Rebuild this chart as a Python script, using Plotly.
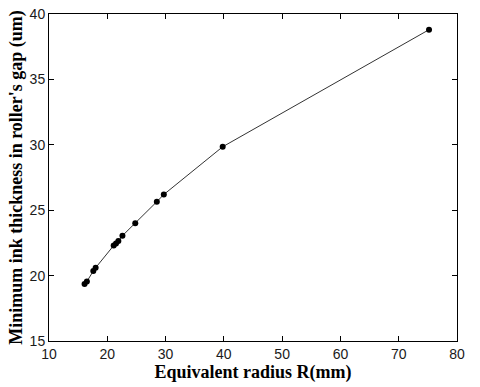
import plotly.graph_objects as go

# Data
radius_mm = [16.1, 16.5, 17.6, 18.0, 21.1, 21.5, 21.9, 22.6, 24.8, 28.5, 29.7, 39.8, 75.2]
ink_thickness_um = [19.35, 19.55, 20.35, 20.6, 22.3, 22.45, 22.65, 23.05, 24.0, 25.65, 26.2, 29.85, 38.8]

x_ticks = [10, 20, 30, 40, 50, 60, 70, 80]
y_ticks = [15, 20, 25, 30, 35, 40]

fig = go.Figure()
fig.add_trace(go.Scatter(
    x=radius_mm, y=ink_thickness_um,
    mode="lines+markers",
    line=dict(color="#333333", width=1),
    marker=dict(color="black", size=6, symbol="circle"),
    showlegend=False,
))

axis_common = dict(
    showline=True, linecolor="black", linewidth=1, mirror="ticks",
    ticks="inside", ticklen=5, tickcolor="black", tickwidth=1,
    showgrid=False, zeroline=False, ticklabeloverflow="allow",
    tickfont=dict(family="Liberation Sans, Arial", size=14, color="#1a1a1a"),
)

fig.update_layout(
    width=480, height=387,
    margin=dict(l=49, r=23, t=14, b=46, autoexpand=False),
    paper_bgcolor="white", plot_bgcolor="white",
    xaxis=dict(
        range=[10, 80], tickvals=x_ticks,
        title=dict(text="<b>Equivalent radius R(mm)</b>", standoff=2,
                   font=dict(family="Liberation Serif, Times New Roman", size=18, color="black")),
        automargin=False,
        **axis_common,
    ),
    yaxis=dict(
        range=[15, 40], tickvals=y_ticks,
        title=dict(text="<b>Minimum ink thickness in roller's gap (um)</b>", standoff=2,
                   font=dict(family="Liberation Serif, Times New Roman", size=18, color="black")),
        automargin=False,
        **axis_common,
    ),
)

# Remove the browser's default page margin so the figure fills the window
fig.write_html("out.html", config={"displayModeBar": False},
               post_script="document.body.style.margin='0';")
